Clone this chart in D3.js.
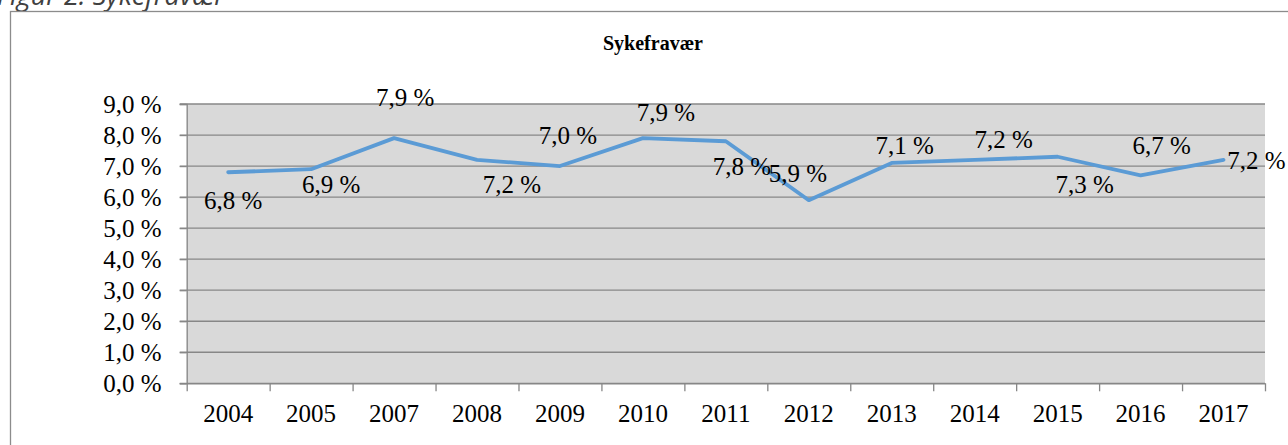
<!DOCTYPE html>
<html>
<head>
<meta charset="utf-8">
<script src="https://cdn.jsdelivr.net/npm/d3@7"></script>
<style>
  body { margin: 0; background: #fff; }
  svg { display: block; }
</style>
</head>
<body>
<div id="canvas"></div>
<script>
"use strict"

/* data */
let years = ["2004", "2005", "2007", "2008", "2009", "2010", "2011", "2012", "2013", "2014", "2015", "2016", "2017"]
let values = [6.8, 6.9, 7.9, 7.2, 7.0, 7.9, 7.8, 5.9, 7.1, 7.2, 7.3, 6.7, 7.2]
let yTicks = [0, 1, 2, 3, 4, 5, 6, 7, 8, 9]

/* where each data label sits relative to its point (dx of centre, dy of baseline) */
let labelDx = [5, 20, 11, 35, 8, 23, 16, -11, 13, 29, 27, 21, 33]
let labelDy = [37, 23.5, -32, 33, -22, -17.5, 34, -18.5, -9, -12, 36, -21, 9]

let W = 1288, H = 445
let plotLeft = 186.7, plotRight = 1265, plotTop = 104, plotBottom = 383.3
let serif = "'Liberation Serif', 'Times New Roman', serif"

let drawing = d3.select("#canvas")
    .append("svg")
    .attr("width", W)
    .attr("height", H)

/* caption above the chart frame, mostly cut off (as in the original) */
drawing.append("text")
    .attr("x", -3)
    .attr("y", 5)
    .attr("font-family", "'Open Sans', sans-serif")
    .attr("font-style", "italic")
    .attr("font-size", 27)
    .attr("fill", "#404040")
    .text("Figur 2: Sykefravær")

/* chart frame */
drawing.append("rect")
    .attr("x", 10.5)
    .attr("y", 11.5)
    .attr("width", 1290)
    .attr("height", 500)
    .attr("fill", "#fff")
    .attr("stroke", "#8c8c8c")
    .attr("stroke-width", 1.3)

let x = d3.scaleBand().domain(years).range([plotLeft, plotRight]).padding(0)
let y = d3.scaleLinear().domain([0, 9]).range([plotBottom, plotTop])

let fmt = d => d3.format(".1f")(d).replace(".", ",") + " %"

/* plot background */
drawing.append("rect")
    .attr("x", plotLeft)
    .attr("y", plotTop)
    .attr("width", plotRight - plotLeft)
    .attr("height", plotBottom - plotTop)
    .attr("fill", "#d9d9d9")

/* gridlines */
drawing.append("g")
    .selectAll("line")
    .data(yTicks)
    .join("line")
    .attr("x1", plotLeft - 7)
    .attr("x2", plotRight)
    .attr("y1", d => y(d))
    .attr("y2", d => y(d))
    .attr("stroke", "#878787")
    .attr("stroke-width", 1.3)

/* y axis */
let yAxis = drawing.append("g")
    .attr("transform", `translate(${plotLeft},0)`)
    .call(d3.axisLeft(y).tickValues(yTicks).tickFormat(fmt).tickSize(7).tickPadding(18))
yAxis.select(".domain").attr("stroke", "#878787").attr("stroke-width", 1.3)
yAxis.selectAll(".tick line").attr("stroke", "#878787").attr("stroke-width", 1.3)
yAxis.selectAll("text")
    .attr("font-family", serif)
    .attr("font-size", 25)
    .attr("fill", "#000")

/* x axis: ticks on the band boundaries */
let xb = d3.scaleLinear().domain([0, years.length]).range([plotLeft, plotRight])
let xTicks = drawing.append("g")
    .attr("transform", `translate(0,${plotBottom})`)
    .call(d3.axisBottom(xb).tickValues(d3.range(years.length + 1)).tickFormat("").tickSize(8).tickSizeOuter(0))
xTicks.select(".domain").attr("stroke", "#878787").attr("stroke-width", 1.3)
xTicks.selectAll(".tick line").attr("stroke", "#878787").attr("stroke-width", 1.3)

/* x axis labels */
let xLabels = drawing.append("g")
    .attr("transform", `translate(0,${plotBottom})`)
    .call(d3.axisBottom(x).tickSize(0).tickPadding(21))
xLabels.select(".domain").remove()
xLabels.selectAll("text")
    .attr("font-family", serif)
    .attr("font-size", 25)
    .attr("fill", "#000")

/* title */
drawing.append("text")
    .attr("x", 653)
    .attr("y", 50)
    .attr("text-anchor", "middle")
    .attr("font-family", serif)
    .attr("font-weight", "bold")
    .attr("font-size", 20)
    .attr("fill", "#000")
    .text("Sykefravær")

/* the line */
let line = d3.line()
    .x((d, i) => x(years[i]) + x.bandwidth() / 2)
    .y(d => y(d))

drawing.append("path")
    .datum(values)
    .attr("d", line)
    .attr("fill", "none")
    .attr("stroke", "#5b9bd5")
    .attr("stroke-width", 3.8)
    .attr("stroke-linejoin", "round")
    .attr("stroke-linecap", "round")

/* data labels */
drawing.append("g")
    .selectAll("text")
    .data(values)
    .join("text")
    .attr("x", (d, i) => x(years[i]) + x.bandwidth() / 2 + labelDx[i])
    .attr("y", (d, i) => y(d) + labelDy[i])
    .attr("text-anchor", "middle")
    .attr("font-family", serif)
    .attr("font-size", 25)
    .attr("fill", "#000")
    .text(d => fmt(d))
</script>
</body>
</html>
